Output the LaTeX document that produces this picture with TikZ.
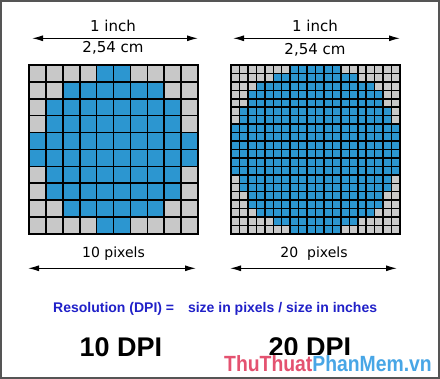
\documentclass[tikz,border=0pt]{standalone}
\usepackage{fontspec}
\usepackage{graphicx}
\setmainfont{DejaVu Sans}
\newfontfamily\arialfont{Liberation Sans}
\usetikzlibrary{arrows.meta}

\definecolor{pixblue}{RGB}{44,150,208}
\definecolor{pixgray}{RGB}{200,200,200}
\definecolor{resblue}{RGB}{32,32,200}
\definecolor{wmpink}{RGB}{228,82,112}
\definecolor{wmblue}{RGB}{72,166,230}
\definecolor{framegray}{RGB}{85,85,85}

\tikzset{
  dimarrow/.style = {{Latex[length=11pt,width=6pt]}-{Latex[length=11pt,width=6pt]}, line width=1.2pt},
  dimlabel/.style = {font=\fontsize{15}{18}\selectfont, inner sep=0pt, anchor=base},
  pixlabel/.style = {font=\fontsize{14}{17}\selectfont, inner sep=0pt, anchor=base},
  dpilabel/.style = {font=\arialfont\bfseries\fontsize{27}{30}\selectfont, inner sep=0pt, anchor=base},
}

\begin{document}
\begin{tikzpicture}[x=1pt, y=-1pt]
    \useasboundingbox (0,0) rectangle (440,379);
    \fill[white] (0,0) rectangle (440,379);
    \draw[framegray, line width=2pt] (1,1) rectangle (439,378);

    % 10 x 10 pixels
    \begin{scope}[shift={(29,65)}, x=16.9pt, y=-16.9pt]
        \fill[pixblue] (0,0) rectangle (10,10);
        \foreach \g [count=\r from 0] in {4,2,1,1,0,0,1,1,2,4} {
            \fill[pixgray] (0,\r) rectangle (\g,\r+1);
            \fill[pixgray] (10-\g,\r) rectangle (10,\r+1);
        }
        \foreach \i in {0,...,10} {
            \draw[line width=1.6pt, line cap=rect] (\i,0) -- (\i,10);
            \draw[line width=1.6pt, line cap=rect] (0,\i) -- (10,\i);
        }
    \end{scope}

    % 20 x 20 pixels
    \begin{scope}[shift={(231,65)}, x=8.45pt, y=-8.45pt]
        \fill[pixblue] (0,0) rectangle (20,20);
        \foreach \g [count=\r from 0] in {7,5,3,2,2,1,1,0,0,0,0,0,0,1,1,2,2,3,5,7} {
            \fill[pixgray] (0,\r) rectangle (\g,\r+1);
            \fill[pixgray] (20-\g,\r) rectangle (20,\r+1);
        }
        \foreach \i in {0,...,20} {
            \draw[line width=1.5pt, line cap=rect] (\i,0) -- (\i,20);
            \draw[line width=1.5pt, line cap=rect] (0,\i) -- (20,\i);
        }
    \end{scope}

    \node[dimlabel] (inchA) at (113,32) {1 inch};
    \node[dimlabel] (cmA) at (113,52.5) {2,54 cm};
    \coordinate (topA1) at (32,38.3);
    \coordinate (topA2) at (198,38.3);
    \draw[dimarrow] (topA1) -- (topA2);

    \node[dimlabel] (inchB) at (315,32) {1 inch};
    \node[dimlabel] (cmB) at (315,55) {2,54 cm};
    \coordinate (topB1) at (233,38.3);
    \coordinate (topB2) at (400,38.3);
    \draw[dimarrow] (topB1) -- (topB2);

    \node[pixlabel] (pixA) at (113.5,258) {10 pixels};
    \coordinate (botA1) at (28,268.3);
    \coordinate (botA2) at (196,268.3);
    \draw[dimarrow] (botA1) -- (botA2);

    \node[pixlabel] (pixB) at (314,258) {20\ \ pixels};
    \coordinate (botB1) at (230,268.3);
    \coordinate (botB2) at (397,268.3);
    \draw[dimarrow] (botB1) -- (botB2);

    \node[inner sep=0pt, anchor=base west, text=resblue, font=\arialfont\bfseries\fontsize{14}{17}\selectfont]
        (formula) at (53,313) {Resolution (DPI) =\hspace{10pt} size in pixels / size in inches};

    \node[dpilabel] (dpiA) at (121,357) {10 DPI};
    \node[dpilabel] (dpiB) at (310,357) {20 DPI};

    \node[fill=white, inner xsep=2pt, inner ysep=1.5pt, anchor=base west,
          font=\arialfont\bfseries\fontsize{22}{24}\selectfont]
        (mark) at (222,372) {\scalebox{0.88}[1]{\textcolor{wmpink}{ThuThuat}\textcolor{wmblue}{PhanMem.vn}}};
\end{tikzpicture}
\end{document}
